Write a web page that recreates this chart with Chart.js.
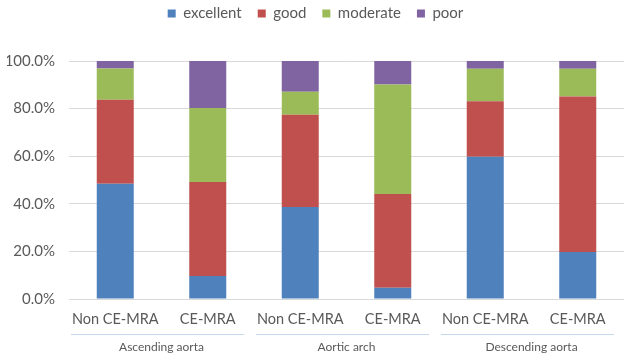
<!DOCTYPE html>
<html>
<head>
<meta charset="utf-8">
<script src="https://cdn.jsdelivr.net/npm/chart.js@4/dist/chart.umd.min.js"></script>
<style>
  html, body { margin: 0; padding: 0; background: #fff; }
  #wrap { width: 631px; height: 362px; }
</style>
</head>
<body>
<div id="wrap"><canvas id="chart" width="631" height="362"></canvas></div>
<script>
const categories = ['Non CE-MRA', 'CE-MRA', 'Non CE-MRA', 'CE-MRA', 'Non CE-MRA', 'CE-MRA'];
const groups = ['Ascending aorta', 'Aortic arch', 'Descending aorta'];

// percentages
const excellent = [48.4, 9.7, 38.7, 4.7, 59.8, 19.7];
const good = [35.3, 39.5, 38.7, 39.4, 23.3, 65.4];
const moderate = [13.1, 31.0, 9.7, 46.0, 13.6, 11.6];
const poor = [3.2, 19.8, 12.9, 9.9, 3.3, 3.3];

const yTicks = [0, 20, 40, 60, 80, 100];

const textColor = '#595959';
const fontFamily = 'Lato, "Open Sans", sans-serif';

// extra room between legend and plot
const legendSpace = {
  id: 'legendSpace',
  beforeInit(chart) {
    const fit = chart.legend.fit;
    chart.legend.fit = function () {
      fit.call(this);
      this.height += 30;
    };
  }
};

// thin lines under each group of category labels (Excel multi-level axis)
const groupLines = {
  id: 'groupLines',
  afterDraw(chart) {
    const x2 = chart.scales.x2;
    const ctx = chart.ctx;
    const w = (x2.right - x2.left) / groups.length;
    ctx.save();
    ctx.strokeStyle = '#c6d9ec';
    ctx.lineWidth = 1;
    groups.forEach((g, i) => {
      const c = x2.getPixelForValue(i);
      const y = Math.round(x2.top) + 5.5;
      ctx.beginPath();
      ctx.moveTo(c - w / 2 + 2, y);
      ctx.lineTo(c + w / 2 - 10, y);
      ctx.stroke();
    });
    ctx.restore();
  }
};

const ctx = document.getElementById('chart').getContext('2d');
new Chart(ctx, {
  type: 'bar',
  data: {
    labels: categories,
    datasets: [
      { label: 'excellent', data: excellent, backgroundColor: '#4f81bd' },
      { label: 'good', data: good, backgroundColor: '#c0504d' },
      { label: 'moderate', data: moderate, backgroundColor: '#9bbb59' },
      { label: 'poor', data: poor, backgroundColor: '#8064a2' },
    ],
  },
  options: {
    responsive: false,
    animation: false,
    layout: { padding: { left: 7, right: 7, top: -10, bottom: 7 } },
    datasets: { bar: { categoryPercentage: 1, barPercentage: 0.4 } },
    plugins: {
      tooltip: { enabled: false },
      legend: {
        position: 'top',
        labels: {
          boxWidth: 8,
          boxHeight: 8,
          padding: 16,
          color: textColor,
          font: { family: fontFamily, size: 15 },
        },
      },
    },
    scales: {
      x: {
        stacked: true,
        grid: { display: false, drawTicks: false, tickLength: 0 },
        border: { display: false },
        afterFit: (s) => { s.height = 30; },
        ticks: {
          color: textColor,
          font: { family: fontFamily, size: 14.5 },
          maxRotation: 0,
          autoSkip: false,
          padding: 12,
        },
      },
      x2: {
        type: 'category',
        position: 'bottom',
        labels: groups,
        offset: true,
        grid: { display: false, drawTicks: false, tickLength: 0 },
        border: { display: false },
        afterFit: (s) => { s.height = 26; },
        ticks: {
          color: textColor,
          font: { family: fontFamily, size: 12 },
          padding: 11,
        },
      },
      y: {
        stacked: true,
        min: 0,
        max: 100,
        afterBuildTicks: (scale) => { scale.ticks = yTicks.map(v => ({ value: v })); },
        afterFit: (s) => { s.width = 62; },
        grid: { color: '#d9d9d9', tickLength: 0, drawTicks: false },
        border: { display: false },
        ticks: {
          color: textColor,
          font: { family: fontFamily, size: 15 },
          padding: 14,
          callback: (v) => v.toFixed(1) + '%',
        },
      },
    },
  },
  plugins: [legendSpace, groupLines],
});
</script>
</body>
</html>
